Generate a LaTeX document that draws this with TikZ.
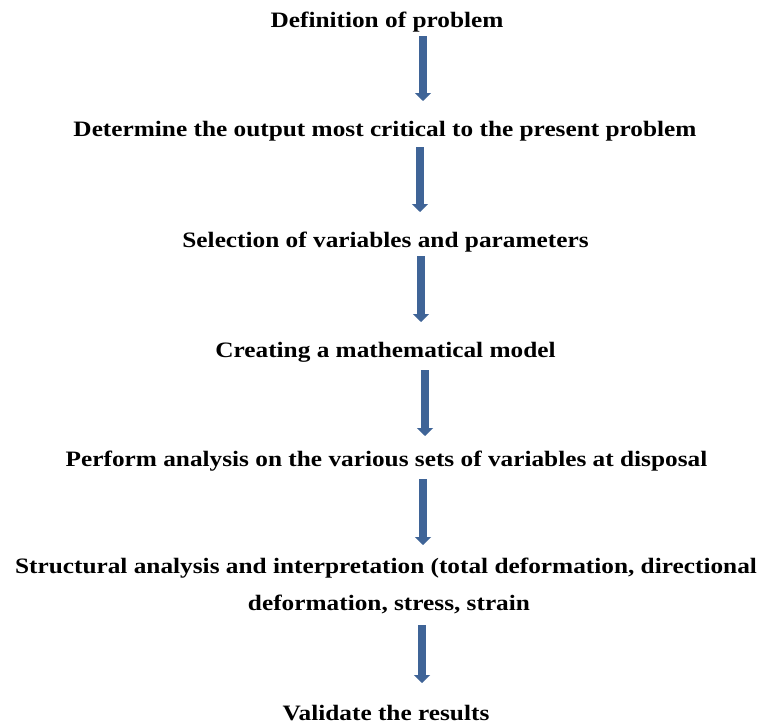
\documentclass[tikz,border=0pt]{standalone}
\usepackage{fontspec}
\setmainfont{Liberation Serif}
\usetikzlibrary{arrows.meta}
\definecolor{arrowblue}{HTML}{3F6497}
\newcommand{\widetext}[1]{\scalebox{1.15}[1]{#1}}
\begin{document}
\begin{tikzpicture}[x=1pt,y=-1pt,
  lbl/.style={anchor=base, inner sep=0pt, font=\fontsize{22}{26}\selectfont\bfseries},
  flow/.style={draw=arrowblue, line width=7.5pt, -{Triangle[width=16pt,length=8pt]}}]
\useasboundingbox (0,0) rectangle (762,724);
\node[lbl] (t1) at (387,27) {\widetext{Definition of problem}};
\node[lbl] (t2) at (385,136) {\widetext{Determine the output most critical to the present problem}};
\node[lbl] (t3) at (385.5,247) {\widetext{Selection of variables and parameters}};
\node[lbl] (t4) at (385.5,357) {\widetext{Creating a mathematical model}};
\node[lbl] (t5) at (386.5,466) {\widetext{Perform analysis on the various sets of variables at disposal}};
\node[lbl] (t6) at (386,573) {\widetext{Structural analysis and interpretation (total deformation, directional}};
\node[lbl] (t6b) at (389,610) {\widetext{deformation, stress, strain}};
\node[lbl] (t7) at (386,720) {\widetext{Validate the results}};
\coordinate (a1) at (423,36);  \coordinate (b1) at (423,101);
\coordinate (a2) at (420,147); \coordinate (b2) at (420,212);
\coordinate (a3) at (421,256); \coordinate (b3) at (421,322);
\coordinate (a4) at (425,370); \coordinate (b4) at (425,436);
\coordinate (a5) at (423,479); \coordinate (b5) at (423,545);
\coordinate (a6) at (422,625); \coordinate (b6) at (422,683);
\foreach \i in {1,...,6} \draw[flow] (a\i) -- (b\i);
\end{tikzpicture}
\end{document}
